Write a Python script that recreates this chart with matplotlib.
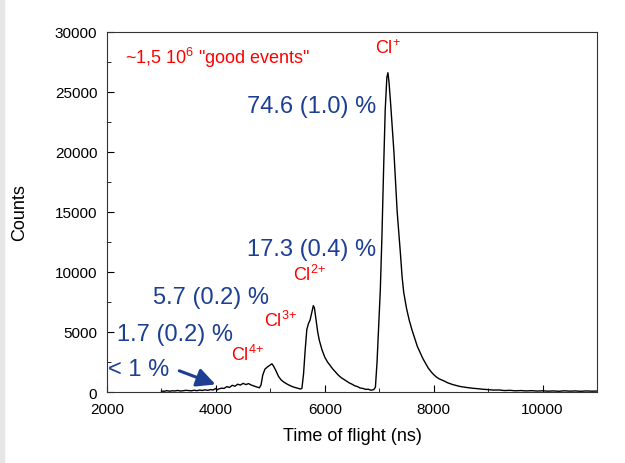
import matplotlib.pyplot as plt
from matplotlib.patches import Rectangle
from matplotlib.ticker import MultipleLocator

plt.rcParams['font.family'] = ['Liberation Sans', 'DejaVu Sans']
plt.rcParams['mathtext.fontset'] = 'custom'
plt.rcParams['mathtext.rm'] = 'Liberation Sans'
plt.rcParams['mathtext.it'] = 'Liberation Sans'

# time of flight spectrum (ns, counts)
tof = [3000, 3050, 3100, 3150, 3200, 3250, 3300, 3350, 3400, 3450, 3500, 3550,
       3600, 3650, 3700, 3750, 3800, 3850, 3900, 3950, 4000, 4020, 4050, 4100,
       4150, 4200, 4250, 4300, 4350, 4400, 4450, 4500, 4550, 4600, 4650, 4700,
       4750, 4800, 4830, 4860, 4900, 4950, 5000, 5030, 5060, 5100, 5150, 5200,
       5250, 5300, 5350, 5400, 5450, 5500, 5550, 5580, 5610, 5640, 5670, 5700,
       5730, 5760, 5790, 5810, 5840, 5870, 5900, 5950, 6000, 6050, 6100, 6150,
       6200, 6250, 6300, 6350, 6400, 6450, 6500, 6550, 6600, 6650, 6700, 6750,
       6800, 6850, 6900, 6930, 6960, 6990, 7020, 7050, 7080, 7110, 7140, 7160,
       7180, 7210, 7240, 7270, 7300, 7330, 7360, 7390, 7420, 7450, 7500, 7550,
       7600, 7650, 7700, 7750, 7800, 7850, 7900, 7950, 8000, 8050, 8100, 8150,
       8200, 8250, 8300, 8350, 8400, 8450, 8500, 8600, 8700, 8800, 8900, 9000,
       9100, 9200, 9300, 9400, 9500, 9600, 9700, 9800, 9900, 10000, 10100,
       10200, 10300, 10400, 10500, 10600, 10700, 10800, 10900, 11000]
counts = [80, 60, 110, 70, 100, 90, 130, 80, 110, 140, 120, 100,
          150, 110, 160, 130, 180, 140, 200, 170, 300, 180, 250, 320,
          300, 450, 380, 560, 480, 650, 580, 720, 620, 700, 580, 500,
          420, 350, 600, 1400, 1900, 2100, 2250, 2350, 2150, 1800, 1300, 1000,
          820, 680, 560, 460, 380, 320, 250, 300, 1500, 3500, 5200, 5700,
          6000, 6600, 7200, 7000, 6000, 5000, 4300, 3500, 2900, 2500, 2200, 1900,
          1650, 1400, 1200, 1050, 900, 760, 650, 520, 450, 330, 300, 220,
          230, 150, 200, 400, 2500, 5500, 8500, 13000, 18500, 23500, 26200, 26600,
          25800, 24000, 22000, 20000, 17500, 15000, 13300, 11500, 9600, 8300, 7000, 6000,
          5200, 4500, 3800, 3300, 2800, 2400, 2000, 1700, 1450, 1250, 1100, 1000,
          900, 780, 700, 620, 560, 500, 450, 380, 320, 280, 230, 200,
          160, 170, 120, 140, 100, 120, 90, 110, 80, 100, 70,
          90, 60, 100, 70, 90, 60, 90, 70, 80]

red_labels = ['~1,5 10$^{6}$ "good events"', 'Cl$^{+}$', 'Cl$^{2\\!+}$',
              'Cl$^{3\\!+}$', 'Cl$^{4\\!+}$']
red_x = [2330, 6930, 5420, 4880, 4270]
red_y = [27900, 28700, 9800, 6000, 3200]

yields = ['74.6 (1.0) %', '17.3 (0.4) %', '5.7 (0.2) %', '1.7 (0.2) %', '< 1 %']
yield_x = [4570, 4570, 2850, 2180, 2020]
yield_y = [23800, 11900, 7900, 4800, 1900]

blue = '#1c3f94'

fig = plt.figure(figsize=(6.25, 4.64), dpi=100)
ax = fig.add_axes([0.1712, 0.153, 0.784, 0.776])
fig.patches.append(Rectangle((0, 0), 4 / 625, 1, transform=fig.transFigure,
                             color='#e6e6e6', zorder=0))

ax.plot(tof, counts, color='black', lw=1.0)

for s, x, y in zip(red_labels, red_x, red_y):
    ax.text(x, y, s, color='red', fontsize=13, ha='left', va='center')
for s, x, y in zip(yields, yield_x, yield_y):
    ax.text(x, y, s, color=blue, fontsize=17, ha='left', va='center')

ax.annotate('', xy=(4040, 550), xytext=(3280, 1850),
            arrowprops=dict(arrowstyle='-|>', color=blue, lw=2.2,
                            mutation_scale=28))

ax.set_xlim(2000, 11000)
ax.set_ylim(0, 30000)
ax.xaxis.set_major_locator(MultipleLocator(2000))
ax.xaxis.set_minor_locator(MultipleLocator(1000))
ax.yaxis.set_major_locator(MultipleLocator(5000))
ax.yaxis.set_minor_locator(MultipleLocator(2500))
ax.tick_params(which='both', direction='in', labelsize=11)
ax.tick_params(axis='x', pad=7)
ax.tick_params(axis='y', pad=7)
ax.tick_params(which='major', length=5)
ax.tick_params(which='minor', length=3)
for sp in ax.spines.values():
    sp.set_color('#333333')

ax.set_xlabel('Time of flight (ns)', fontsize=13, labelpad=8)
ax.set_ylabel('Counts', fontsize=13)
ax.yaxis.set_label_coords(-0.16, 0.5)

fig.savefig('out.png', dpi=100)
